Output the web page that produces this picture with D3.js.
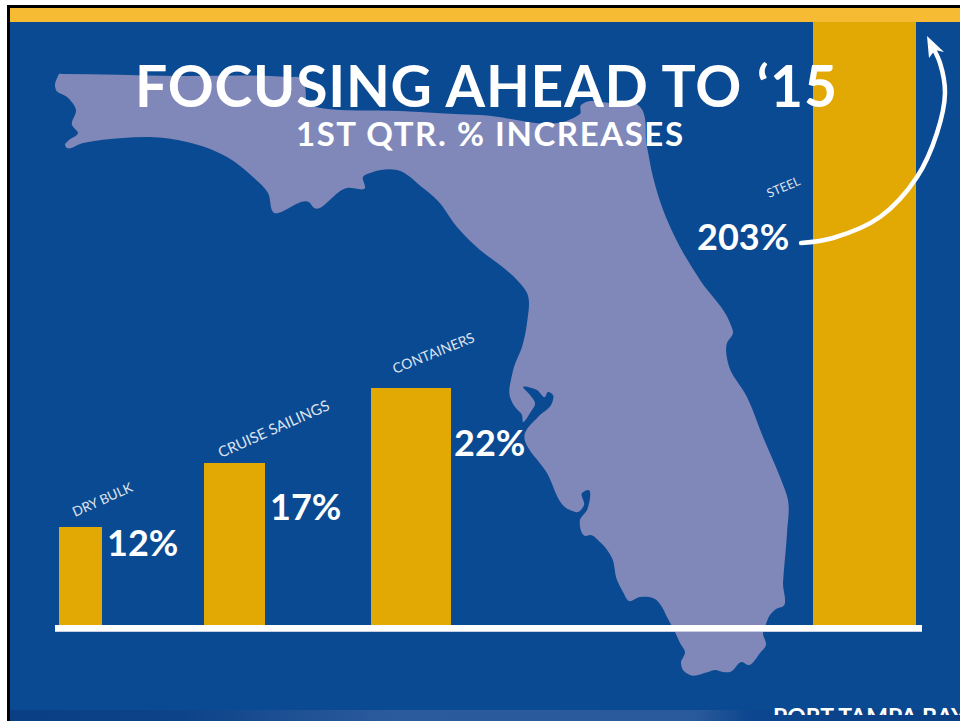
<!DOCTYPE html>
<html lang="en">
<head>
	<meta charset="utf-8">
	<title>Focusing Ahead to '15</title>
	<script src="https://d3js.org/d3.v7.min.js"></script>
	<style type="text/css">
		html, body{ margin: 0; padding: 0; background: #fff; }
		svg{ display: block; }
		text{ font-family: Lato, sans-serif; fill: #fff; }
	</style>
</head>

<body>
	<svg id="chart" width="960" height="721"></svg>

	<script type="text/javascript">

	// Values
	var categories = ["DRY BULK", "CRUISE SAILINGS", "CONTAINERS", "STEEL"]
	var increases = [12, 17, 22, 203]

	// Traced state outline, only backdrop, no data in it
	var floridaOutline = [
		[58,76],[59,74],[62,74],[175,76],[288,77],[300,78],[304,84],[310,106],[315,107],[400,111],[480,115],[577,116],[580,114],[581,105],[584,103],[610,103],[635,103],[638,105],
		[647,147],[653,177],[662,207],[680,247],[700,280],[730,323],[733,333],[727,343],[728,363],
		[747,397],[763,437],[780,477],[788,500],[787,533],[783,583],[782,607],[778,608],[770,615],
		[766,624],[763,633],[766,645],[760,653],[748,665],[742,662],[730,672],[723,672],[715,670],
		[708,672],[690,675],[683,670],[681,663],[685,652],[680,643],[675,632],[667,617],[662,607],
		[655,599],[640,597],[629,601],[623,592],[617,580],[612,558],[600,542],[590,535],[586,536],
		[580,520],[587,510],[588,490],[582,493],[584,505],[578,512],[570,510],[547,473],[525,433],
		[538,417],[552,403],[553,395],[548,392],[545,397],[537,390],[523,387],[530,395],[535,403],
		[530,413],[523,422],[522,415],[515,407],[510,397],[512,375],[514,367],[522,347],[527,323],
		[527,293],[517,280],[500,265],[480,250],[457,227],[437,200],[423,188],[397,170],[373,172],
		[363,177],[365,188],[347,188],[313,207],[310,203],[273,212],[268,193],[253,177],[227,157],
		[187,142],[150,137],[123,138],[83,143],[66,147],[65,145],[68,141],[78,133],[72,125],[76,110],[67,97],
		[56,90],[55,86]
	]

	var colors = {
		frame: "#000",
		band: "#f6ba33",
		sea: "#0a4a92",
		land: "#8088b9",
		bar: "#e2a904"
	}

	var svg = d3.select("#chart")
	var baseY = 625

	// The bars of this graphic are not to scale, so the scales go value by value
	var y = d3.scaleLinear().domain([0, 12, 17, 22, 203]).range([baseY, 527, 463, 388, 22])
	var x = d3.scaleOrdinal().domain(categories).range([59, 204, 371, 813])
	var barWidth = d3.scaleLinear().domain([12, 17, 22, 203]).range([43, 61, 80, 103])

	var data = categories.map(function(c, i){ return {category: c, value: increases[i]} })

	// Background
	svg.append("rect").attr("x", 7).attr("y", 5).attr("width", 953).attr("height", 716).attr("fill", colors.frame)
	svg.append("rect").attr("x", 10).attr("y", 8).attr("width", 950).attr("height", 713).attr("fill", colors.sea)

	// Map
	svg.append("path")
		.attr("d", d3.line().curve(d3.curveCatmullRomClosed.alpha(1))(floridaOutline))
		.attr("fill", colors.land)

	// Bars
	svg.append("g").selectAll("rect")
		.data(data)
		.enter()
		.append("rect")
		.attr("x", d => x(d.category))
		.attr("y", d => y(d.value))
		.attr("width", d => barWidth(d.value))
		.attr("height", d => baseY - y(d.value))
		.attr("fill", colors.bar)

	// Top band
	svg.append("rect").attr("x", 10).attr("y", 8).attr("width", 950).attr("height", 14).attr("fill", colors.band)

	// Baseline
	svg.append("rect").attr("x", 55).attr("y", 625).attr("width", 867).attr("height", 6).attr("fill", "#fff")
	svg.append("rect").attr("x", 55).attr("y", 631).attr("width", 867).attr("height", 1).attr("fill", "#c9cfe0")

	// Title
	svg.append("text")
		.attr("x", 135).attr("y", 107)
		.attr("font-size", 57).attr("font-weight", 700)
		.attr("textLength", 702)
		.text("FOCUSING AHEAD TO ‘15")
	svg.append("text")
		.attr("x", 296).attr("y", 146)
		.attr("font-size", 33).attr("font-weight", 700)
		.attr("textLength", 387)
		.text("1ST QTR. % INCREASES")

	// Category labels, tilted
	var labelPos = d3.scaleOrdinal().domain(categories).range([[75,517],[221,458],[395,374],[769,198]])
	var labelAngle = d3.scaleOrdinal().domain(categories).range([-24,-24,-22,-23])
	var labelSize = d3.scaleOrdinal().domain(categories).range([13.5,15,14,12.5])
	svg.append("g").selectAll("text")
		.data(data)
		.enter()
		.append("text")
		.attr("transform", d => "translate(" + labelPos(d.category) + ") rotate(" + labelAngle(d.category) + ")")
		.attr("font-size", d => labelSize(d.category))
		.attr("opacity", 0.85)
		.text(d => d.category)

	// Value labels
	var valueX = d3.scaleOrdinal().domain(categories).range([107, 270, 454, 697])
	var valueY = d3.scaleOrdinal().domain(categories).range([556, 520, 456, 250])
	svg.append("g").selectAll("text")
		.data(data)
		.enter()
		.append("text")
		.attr("x", d => valueX(d.category))
		.attr("y", d => valueY(d.category))
		.attr("font-size", 36).attr("font-weight", 700)
		.text(d => d.value + "%")

	// Arrow from the steel label off the top
	var arrowLine = d3.line().curve(d3.curveCatmullRom)
	svg.append("path")
		.attr("d", arrowLine([[801,243],[833,238],[880,217],[917,177],[937,133],[945,93],[940,63],[932,46]]))
		.attr("fill", "none").attr("stroke", "#fff").attr("stroke-width", 4.5).attr("stroke-linecap", "round")
	svg.append("path")
		.attr("d", d3.line().curve(d3.curveLinearClosed)([[927,36],[944,52],[935,50],[929,58]]))
		.attr("fill", "#fff")

	// Footer strip, cut off by the window
	var defs = svg.append("defs")
	var grad = defs.append("linearGradient").attr("id", "foot")
	grad.append("stop").attr("offset", "0%").attr("stop-color", "#0a3f85")
	grad.append("stop").attr("offset", "18%").attr("stop-color", "#0d4389")
	grad.append("stop").attr("offset", "40%").attr("stop-color", "#2c5b9d")
	grad.append("stop").attr("offset", "72%").attr("stop-color", "#2a5a9b")
	grad.append("stop").attr("offset", "78%").attr("stop-color", "#0c468e")
	grad.append("stop").attr("offset", "100%").attr("stop-color", "#0a3f85")
	svg.append("rect").attr("x", 10).attr("y", 710).attr("width", 950).attr("height", 11).attr("fill", "url(#foot)")
	defs.append("clipPath").attr("id", "footClip")
		.append("rect").attr("x", 760).attr("y", 708).attr("width", 200).attr("height", 7)
	svg.append("text")
		.attr("clip-path", "url(#footClip)")
		.attr("x", 773).attr("y", 725)
		.attr("font-size", 23).attr("font-weight", 700)
		.text("PORT TAMPA BAY")

	</script>
</body>
</html>
